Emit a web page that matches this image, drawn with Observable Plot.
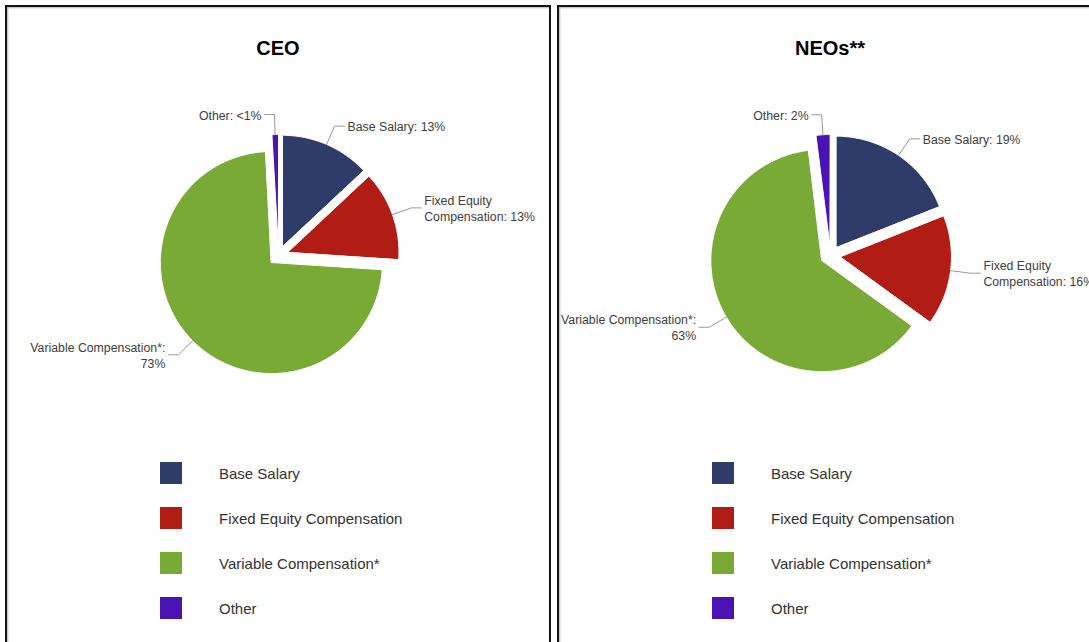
<!DOCTYPE html>
<html><head><meta charset="utf-8">
<script src="https://cdn.jsdelivr.net/npm/d3@7"></script>
<script src="https://cdn.jsdelivr.net/npm/@observablehq/plot@0.6"></script>
<style>
html,body{margin:0;padding:0;background:#fff;width:1089px;height:642px;overflow:hidden;font-family:"Liberation Sans",Arial,sans-serif;}
.panel{position:absolute;top:5px;width:542px;height:650px;border:2px solid #151515;box-shadow:inset 1px 1px 2px rgba(0,0,0,0.3);background:#fff;}
.title{position:absolute;left:0;width:100%;top:29px;text-align:center;font-size:20px;font-weight:bold;color:#000;line-height:24px;}
.chart{position:absolute;left:0;top:60px;}
.item{position:absolute;left:153px;height:22px;display:flex;align-items:center;}
.sw{width:22px;height:22px;flex:none;}
.lab{margin-left:37px;font-size:15px;color:#333;white-space:nowrap;}
</style></head><body>
<script>
// ---- data ----
const categories = ["Base Salary", "Fixed Equity Compensation", "Variable Compensation*", "Other"];
const colors = ["#2f3b68", "#b11c14", "#78aa35", "#4b12b4"];
const panelTitles = ["CEO", "NEOs**"];
const ceoValues = [13, 13, 73, 0.9];
const neoValues = [19, 16, 63, 2];
const ceoLabels = ["Base Salary: 13%", "Fixed Equity\nCompensation: 13%", "Variable Compensation*:\n73%", "Other: <1%"];
const neoLabels = ["Base Salary: 19%", "Fixed Equity\nCompensation: 16%", "Variable Compensation*:\n63%", "Other: 2%"];

function makePanel(left, title, values, labels) {
  const panel = document.createElement("div");
  panel.className = "panel";
  panel.style.left = left + "px";
  document.body.appendChild(panel);

  const t = document.createElement("div");
  t.className = "title";
  t.textContent = title;
  panel.appendChild(t);

  const W = 542, H = 380, cx = 271, cy = 188, R = 111, explode = 10;
  const arcs = d3.pie().sort(null).value(d => d)(values);
  const slicePts = [], conn = [], labs = [];
  arcs.forEach((a, i) => {
    const mid = (a.startAngle + a.endAngle) / 2;
    const sx = Math.sin(mid), sy = -Math.cos(mid);
    const ox = explode * sx, oy = explode * sy;
    const key = categories[i];
    slicePts.push({key, x: ox, y: oy});
    const n = Math.max(2, Math.ceil((a.endAngle - a.startAngle) / 0.01));
    for (let k = 0; k <= n; k++) {
      const th = a.startAngle + (a.endAngle - a.startAngle) * k / n;
      slicePts.push({key, x: ox + R * Math.sin(th), y: oy - R * Math.cos(th)});
    }
    const side = sx >= 0 ? 1 : -1;
    const r0 = R + explode, r1 = R + explode + 20;
    const bx = r1 * sx, by = r1 * sy;
    conn.push({key, x: r0 * sx, y: r0 * sy});
    conn.push({key, x: bx, y: by});
    conn.push({key, x: bx + side * 10, y: by});
    labs.push({key, side, x: bx + side * 13, y: by, text: labels[i]});
  });

  const chart = Plot.plot({
    width: W, height: H, margin: 0,
    style: {fontFamily: "'Liberation Sans', Arial, sans-serif", background: "transparent"},
    x: {domain: [-cx, W - cx], range: [0, W], axis: null},
    y: {domain: [-cy, H - cy], range: [0, H], axis: null},
    color: {domain: categories, range: colors},
    marks: [
      Plot.line(slicePts, {x: "x", y: "y", z: "key", fill: "key", stroke: "#fff", strokeWidth: 1, curve: "linear-closed"}),
      Plot.line(conn, {x: "x", y: "y", z: "key", stroke: "#999", strokeWidth: 1}),
      Plot.text(labs.filter(d => d.side > 0), {x: "x", y: "y", text: "text", textAnchor: "start", fontSize: 12.3, fill: "#404040", lineHeight: 1.3}),
      Plot.text(labs.filter(d => d.side < 0), {x: "x", y: "y", text: "text", textAnchor: "end", fontSize: 12.3, fill: "#404040", lineHeight: 1.3})
    ]
  });
  const holder = document.createElement("div");
  holder.className = "chart";
  holder.appendChild(chart);
  panel.appendChild(holder);

  categories.forEach((c, i) => {
    const it = document.createElement("div");
    it.className = "item";
    it.style.top = (455 + 45 * i) + "px";
    const sw = document.createElement("div");
    sw.className = "sw";
    sw.style.background = colors[i];
    const lb = document.createElement("div");
    lb.className = "lab";
    lb.textContent = c;
    it.appendChild(sw); it.appendChild(lb);
    panel.appendChild(it);
  });
}

makePanel(5, panelTitles[0], ceoValues, ceoLabels);
makePanel(557, panelTitles[1], neoValues, neoLabels);
</script>
</body></html>
